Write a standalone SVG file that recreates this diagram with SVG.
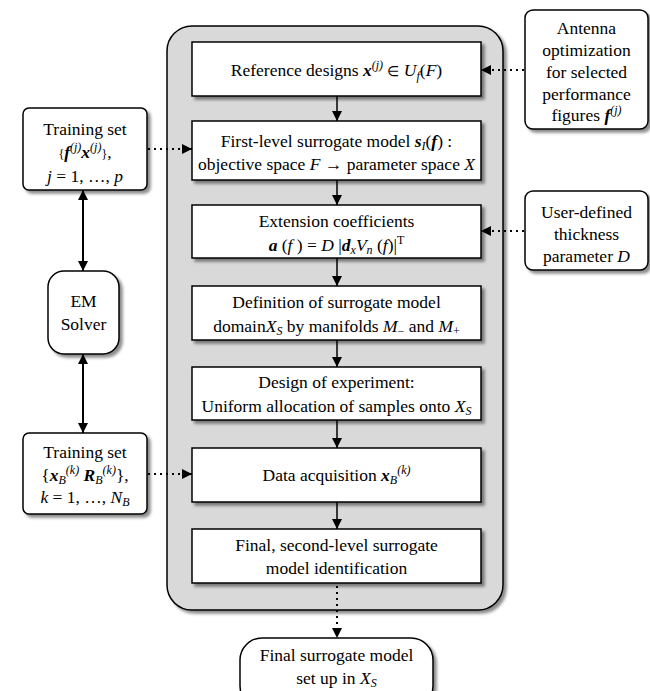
<svg xmlns="http://www.w3.org/2000/svg" width="650" height="691" viewBox="0 0 650 691" font-family="Liberation Serif">
<defs>
<filter id="sh" x="-10%" y="-10%" width="130%" height="130%">
<feDropShadow dx="3" dy="3" stdDeviation="1.8" flood-color="#000" flood-opacity="0.45"/>
</filter>
<marker id="ah" viewBox="0 0 10 10" refX="10" refY="5" markerWidth="11" markerHeight="10" markerUnits="userSpaceOnUse" orient="auto-start-reverse">
<path d="M0,0 L10,5 L0,10 Z" fill="#000"/>
</marker>
<style>
text{font-family:'Liberation Serif',serif;font-size:17.5px;fill:#000;text-anchor:middle}
.i{font-style:italic}
.b{font-weight:bold;font-style:italic}
.s{font-size:12px}
.el{font-size:14px}
.box{fill:#fff;stroke:#000;stroke-width:1.5}
.cont{fill:#d9d9d9;stroke:#000;stroke-width:1.5}
.solid{stroke:#000;stroke-width:1.5;fill:none}
.thick{stroke:#000;stroke-width:2;fill:none}
.dot{stroke:#000;stroke-width:2;fill:none;stroke-dasharray:2 4}
</style>
</defs>

<g id="container">
<rect class="cont" x="167" y="26" width="336" height="584" rx="25" filter="url(#sh)"/>
</g>

<g id="n1">
<rect class="box" x="192" y="42" width="289" height="54" filter="url(#sh)"/>
<text x="336.5" y="76">Reference designs <tspan class="b">x</tspan><tspan class="s i" dy="-7">(j)</tspan><tspan dy="7"> </tspan><tspan class="el">∈</tspan><tspan>  </tspan><tspan class="i">U</tspan><tspan class="s i" dy="4">f</tspan><tspan dy="-4">(</tspan><tspan class="i">F</tspan>)</text>
</g>

<g id="n2">
<rect class="box" x="192" y="121" width="289" height="59" filter="url(#sh)"/>
<text x="336.5" y="147">First-level surrogate model <tspan class="b">s</tspan><tspan class="s i" dy="3">I</tspan><tspan dy="-3">(</tspan><tspan class="b">f</tspan>) :</text>
<text x="336.5" y="170">objective space <tspan class="i">F</tspan> → parameter space <tspan class="i">X</tspan></text>
</g>

<g id="n3">
<rect class="box" x="192" y="205" width="289" height="53" filter="url(#sh)"/>
<text x="336.5" y="227">Extension coefficients</text>
<text x="336.5" y="251"><tspan class="b">a</tspan> (<tspan class="i">f</tspan> ) = <tspan class="i">D</tspan> |<tspan class="b">d</tspan><tspan class="s i" dy="3">x</tspan><tspan class="i" dy="-3">V</tspan><tspan class="s i" dy="3">n</tspan><tspan dy="-3"> (</tspan><tspan class="i">f</tspan>)|<tspan class="s" dy="-7">T</tspan></text>
</g>

<g id="n4">
<rect class="box" x="192" y="286" width="289" height="54" filter="url(#sh)"/>
<text x="336.5" y="308">Definition of surrogate model</text>
<text x="336.5" y="332">domain<tspan class="i">X</tspan><tspan class="s i" dy="3">S</tspan><tspan dy="-3"> by manifolds </tspan><tspan class="i">M</tspan><tspan class="s" dy="3">−</tspan><tspan dy="-3"> and </tspan><tspan class="i">M</tspan><tspan class="s" dy="3">+</tspan></text>
</g>

<g id="n5">
<rect class="box" x="192" y="367" width="289" height="53" filter="url(#sh)"/>
<text x="336.5" y="388">Design of experiment:</text>
<text x="336.5" y="412">Uniform allocation of samples onto <tspan class="i">X</tspan><tspan class="s i" dy="3">S</tspan></text>
</g>

<g id="n6">
<rect class="box" x="192" y="448" width="289" height="54" filter="url(#sh)"/>
<text x="336.5" y="481">Data acquisition <tspan class="b">x</tspan><tspan class="s i" dy="3">B</tspan><tspan class="s i" dy="-10">(k)</tspan></text>
</g>

<g id="n7">
<rect class="box" x="192" y="529" width="289" height="54" filter="url(#sh)"/>
<text x="336.5" y="551">Final, second-level surrogate</text>
<text x="336.5" y="574">model identification</text>
</g>

<g id="final">
<rect class="box" x="240" y="638" width="193" height="70" rx="22" filter="url(#sh)"/>
<text x="336.5" y="661">Final surrogate model</text>
<text x="336.5" y="684">set up in <tspan class="i">X</tspan><tspan class="s i" dy="3">S</tspan></text>
</g>

<g id="antenna">
<rect class="box" x="525" y="10" width="123" height="119" rx="8" filter="url(#sh)"/>
<text x="586.5" y="34">Antenna</text>
<text x="586.5" y="56">optimization</text>
<text x="586.5" y="78">for selected</text>
<text x="586.5" y="100">performance</text>
<text x="586.5" y="121">figures <tspan class="b">f</tspan><tspan class="s i" dy="-7">(j)</tspan></text>
</g>

<g id="thickness">
<rect class="box" x="525" y="191" width="123" height="79" rx="8" filter="url(#sh)"/>
<text x="586.5" y="218">User-defined</text>
<text x="586.5" y="240">thickness</text>
<text x="586.5" y="262">parameter <tspan class="i">D</tspan></text>
</g>

<g id="train1">
<rect class="box" x="23" y="108" width="124" height="82" rx="6" filter="url(#sh)"/>
<text x="85" y="135">Training set</text>
<text x="85" y="158"><tspan class="s">{</tspan><tspan class="b">f</tspan><tspan class="s i" dy="-7">(j)</tspan><tspan class="b" dy="7">x</tspan><tspan class="s i" dy="-7">(j)</tspan><tspan class="s" dy="7">}</tspan>,</text>
<text x="85" y="182"><tspan class="i">j</tspan> = 1, …, <tspan class="i">p</tspan></text>
</g>

<g id="em">
<rect class="box" x="48" y="271" width="71" height="83" rx="16" filter="url(#sh)"/>
<text x="83.5" y="307">EM</text>
<text x="83.5" y="330">Solver</text>
</g>

<g id="train2">
<rect class="box" x="23" y="433" width="124" height="81" rx="6" filter="url(#sh)"/>
<text x="85" y="458">Training set</text>
<text x="85" y="481">{<tspan class="b">x</tspan><tspan class="s i" dy="3">B</tspan><tspan class="s i" dy="-10">(k)</tspan><tspan class="b" dy="7"> R</tspan><tspan class="s i" dy="3">B</tspan><tspan class="s i" dy="-10">(k)</tspan><tspan dy="7">},</tspan></text>
<text x="85" y="503"><tspan class="i">k</tspan> = 1, …, <tspan class="i">N</tspan><tspan class="s i" dy="3">B</tspan></text>
</g>

<g id="connectors">
<line class="solid" x1="337" y1="96" x2="337" y2="121" marker-end="url(#ah)"/>
<line class="solid" x1="337" y1="180" x2="337" y2="205" marker-end="url(#ah)"/>
<line class="solid" x1="337" y1="258" x2="337" y2="286" marker-end="url(#ah)"/>
<line class="solid" x1="337" y1="340" x2="337" y2="367" marker-end="url(#ah)"/>
<line class="solid" x1="337" y1="420" x2="337" y2="448" marker-end="url(#ah)"/>
<line class="solid" x1="337" y1="502" x2="337" y2="529" marker-end="url(#ah)"/>
<line class="dot" x1="337" y1="586" x2="337" y2="638" marker-end="url(#ah)"/>
<line class="dot" x1="524" y1="70" x2="481" y2="70" marker-end="url(#ah)"/>
<line class="dot" x1="524" y1="231" x2="481" y2="231" marker-end="url(#ah)"/>
<line class="dot" x1="148" y1="149" x2="192" y2="149" marker-end="url(#ah)"/>
<line class="dot" x1="148" y1="474" x2="192" y2="474" marker-end="url(#ah)"/>
<line class="thick" x1="83" y1="190" x2="83" y2="271" marker-start="url(#ah)" marker-end="url(#ah)"/>
<line class="thick" x1="83" y1="354" x2="83" y2="433" marker-start="url(#ah)" marker-end="url(#ah)"/>
</g>
</svg>
